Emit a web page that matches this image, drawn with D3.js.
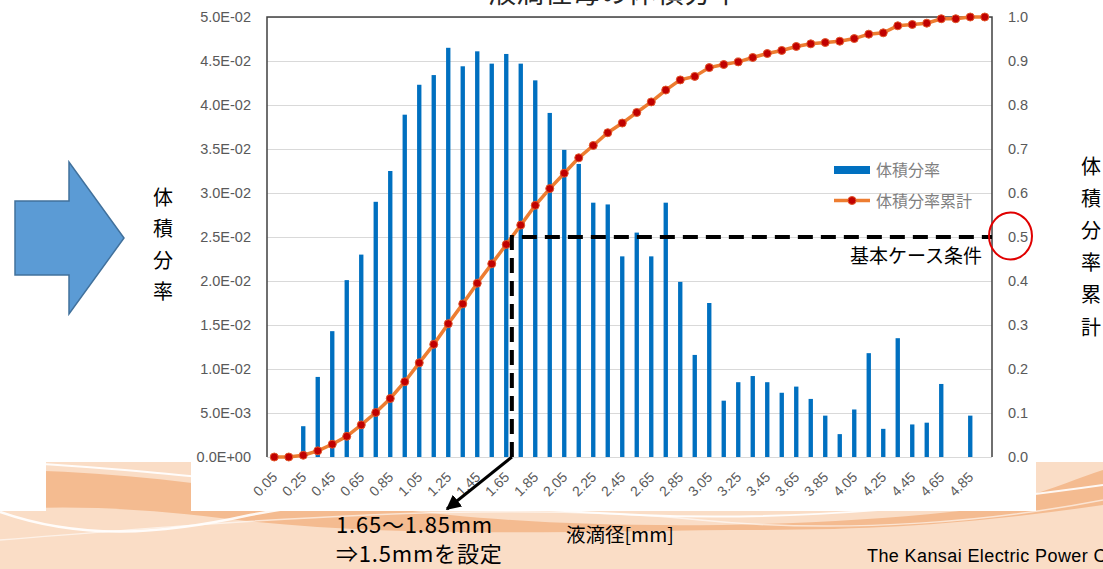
<!DOCTYPE html>
<html>
<head>
<meta charset="utf-8">
<script src="https://cdn.jsdelivr.net/npm/d3@7"></script>
<style>
body { margin: 0; background: #fff; overflow: hidden; }
svg { display: block; }
</style>
</head>
<body>
<svg width="1103" height="569"></svg>
<script>
// droplet size classes [mm]
var sizes = ["0.05","0.15","0.25","0.35","0.45","0.55","0.65","0.75","0.85","0.95",
             "1.05","1.15","1.25","1.35","1.45","1.55","1.65","1.75","1.85","1.95",
             "2.05","2.15","2.25","2.35","2.45","2.55","2.65","2.75","2.85","2.95",
             "3.05","3.15","3.25","3.35","3.45","3.55","3.65","3.75","3.85","3.95",
             "4.05","4.15","4.25","4.35","4.45","4.55","4.65","4.75","4.85","4.95"];

// 体積分率 (left axis)
var volFrac = [0, 0, 0.0035, 0.0091, 0.0143, 0.0201, 0.0230, 0.0290, 0.0325, 0.0389,
               0.0423, 0.0434, 0.0465, 0.0444, 0.0461, 0.0447, 0.0458, 0.0447, 0.0428, 0.0391,
               0.0349, 0.0333, 0.0289, 0.0287, 0.0228, 0.0255, 0.0228, 0.0289, 0.0199, 0.0116,
               0.0175, 0.0064, 0.0085, 0.0092, 0.0085, 0.0073, 0.0080, 0.0066, 0.0047, 0.0026,
               0.0054, 0.0118, 0.0032, 0.0135, 0.0037, 0.0039, 0.0083, 0, 0.0047, 0];

// 体積分率累計 (right axis)
var cumFrac = [0, 0, 0.004, 0.014, 0.029, 0.047, 0.073, 0.101, 0.133, 0.171,
               0.214, 0.256, 0.303, 0.348, 0.395, 0.439, 0.483, 0.527, 0.572, 0.610,
               0.645, 0.680, 0.708, 0.737, 0.759, 0.783, 0.807, 0.834, 0.857, 0.865,
               0.885, 0.892, 0.898, 0.908, 0.917, 0.924, 0.933, 0.939, 0.942, 0.945,
               0.951, 0.961, 0.964, 0.980, 0.983, 0.986, 0.996, 0.996, 1.0, 1.0];

var baseCase = 0.5;   // 基本ケース条件 (cumulative)

var svg = d3.select("svg");
var jp = "'Noto Sans CJK JP', 'Noto Sans', sans-serif";
var lat = "'Liberation Sans', Arial, sans-serif";

// ---- slide background ----
var bg = svg.append("g");
bg.append("rect").attr("x", 0).attr("y", 462).attr("width", 1103).attr("height", 107).attr("fill", "#FADDC6");
bg.append("path")
  .attr("d", "M0,470 C150,470 300,500 450,515 C600,530 800,528 950,512 C1020,505 1070,480 1103,470 L1103,505 C1000,520 900,530 760,530 C600,530 400,540 220,518 C140,508 60,505 0,510 Z")
  .attr("fill", "#F4BB90");
bg.append("path").attr("d", "M0,512 C80,540 160,535 250,515 C450,478 760,470 1103,452")
  .attr("fill", "none").attr("stroke", "#fff").attr("stroke-width", 2.5).attr("opacity", 0.9);
bg.append("path").attr("d", "M0,462 C200,470 400,505 640,515 C800,522 960,505 1103,485")
  .attr("fill", "none").attr("stroke", "#fff").attr("stroke-width", 2).attr("opacity", 0.9);
bg.append("path").attr("d", "M0,540 C250,520 500,500 700,520 C850,535 1000,520 1103,500")
  .attr("fill", "none").attr("stroke", "#fff").attr("stroke-width", 1.5).attr("opacity", 0.6);
bg.append("rect").attr("x", 0).attr("y", 0).attr("width", 46).attr("height", 511).attr("fill", "#fff");
bg.append("rect").attr("x", 191).attr("y", 0).attr("width", 845).attr("height", 511).attr("fill", "#fff");

// blue arrow on the left
svg.append("polygon")
  .attr("points", "15,201 69,201 69,162 124,238 69,314 69,275 15,275")
  .attr("fill", "#5B9BD5").attr("stroke", "#41719C").attr("stroke-width", 1.5);

// ---- chart ----
var pLeft = 267, pRight = 992, pTop = 17, pBottom = 457;

var x = d3.scaleBand().domain(sizes).range([pLeft, pRight]).paddingInner(0.7).paddingOuter(0.35);
var yL = d3.scaleLinear().domain([0, 0.05]).range([pBottom, pTop]);
var yR = d3.scaleLinear().domain([0, 1]).range([pBottom, pTop]);

function sci(v) {
  if (Math.abs(v) < 1e-12) return "0.0E+00";
  var e = Math.floor(Math.log10(v) + 1e-9);
  var m = v / Math.pow(10, e);
  var ee = Math.abs(e);
  return m.toFixed(1) + "E" + (e < 0 ? "-" : "+") + (ee < 10 ? "0" : "") + ee;
}

// gridlines
svg.append("g")
  .attr("transform", "translate(" + pLeft + ",0)")
  .call(d3.axisLeft(yL).ticks(10).tickSize(-(pRight - pLeft)).tickFormat(""))
  .call(function(g) {
    g.select(".domain").remove();
    g.selectAll("line").attr("stroke", "#D9D9D9").attr("stroke-width", 1.2);
  });

// bars
svg.append("g").selectAll("rect")
  .data(volFrac).enter()
  .append("rect")
  .attr("x", function(d, i) { return x(sizes[i]); })
  .attr("y", function(d) { return yL(d); })
  .attr("width", x.bandwidth())
  .attr("height", function(d) { return pBottom - yL(d); })
  .attr("fill", "#0070C0");

// plot border (top, left, right)
svg.append("path")
  .attr("d", "M" + pLeft + "," + pBottom + "V" + pTop + "H" + pRight + "V" + pBottom)
  .attr("fill", "none").attr("stroke", "#404040").attr("stroke-width", 1.5);

// left axis
svg.append("g")
  .attr("transform", "translate(" + pLeft + ",0)")
  .call(d3.axisLeft(yL).ticks(10).tickSize(0).tickPadding(16).tickFormat(sci))
  .call(function(g) {
    g.select(".domain").remove();
    g.selectAll("text").attr("fill", "#595959").style("font-family", lat).style("font-size", "14.5px");
  });

// right axis
svg.append("g")
  .attr("transform", "translate(" + pRight + ",0)")
  .call(d3.axisRight(yR).ticks(10).tickSize(0).tickPadding(16).tickFormat(d3.format(".1f")))
  .call(function(g) {
    g.select(".domain").remove();
    g.selectAll("text").attr("fill", "#595959").style("font-family", lat).style("font-size", "14.5px");
  });

// bottom axis
svg.append("g")
  .attr("transform", "translate(0," + pBottom + ")")
  .call(d3.axisBottom(x).tickSize(0).tickValues(sizes.filter(function(d, i) { return i % 2 === 0; })))
  .call(function(g) {
    g.select(".domain").remove();
    g.selectAll("text")
      .attr("x", 0).attr("y", 0).attr("dy", 0)
      .attr("transform", "translate(4,21) rotate(-45)")
      .attr("text-anchor", "end")
      .attr("fill", "#595959").style("font-family", lat).style("font-size", "14px");
  });

// cumulative line
var line = d3.line()
  .x(function(d, i) { return x(sizes[i]) + x.bandwidth() / 2; })
  .y(function(d) { return yR(d); });

svg.append("path").datum(cumFrac)
  .attr("d", line)
  .attr("fill", "none").attr("stroke", "#ED7D31").attr("stroke-width", 3.5);

svg.append("g").selectAll("circle")
  .data(cumFrac).enter()
  .append("circle")
  .attr("cx", function(d, i) { return x(sizes[i]) + x.bandwidth() / 2; })
  .attr("cy", function(d) { return yR(d); })
  .attr("r", 4)
  .attr("fill", "#C00000").attr("stroke", "#E2562A").attr("stroke-width", 1);

// base case crossing (interpolated where cumulative reaches 0.5)
var k = cumFrac.findIndex(function(d) { return d >= baseCase; });
var xa = x(sizes[k - 1]) + x.bandwidth() / 2, xb = x(sizes[k]) + x.bandwidth() / 2;
var xCross = xa + (baseCase - cumFrac[k - 1]) / (cumFrac[k] - cumFrac[k - 1]) * (xb - xa);

svg.append("path")
  .attr("d", "M" + xCross + "," + pBottom + "V" + yR(baseCase) + "H" + pRight)
  .attr("fill", "none").attr("stroke", "#000").attr("stroke-width", 4)
  .attr("stroke-dasharray", "15,8");

svg.append("text")
  .attr("x", 982).attr("y", 263)
  .attr("text-anchor", "end")
  .style("font-family", jp).style("font-size", "19px").attr("fill", "#000")
  .text("基本ケース条件");

// red circle around 0.5
svg.append("ellipse")
  .attr("cx", 1010.5).attr("cy", yR(baseCase) - 1)
  .attr("rx", 21.5).attr("ry", 23.5)
  .attr("fill", "none").attr("stroke", "#E00000").attr("stroke-width", 2);

// arrow to annotation
svg.append("defs").append("marker")
  .attr("id", "ah").attr("viewBox", "0 0 10 10").attr("refX", 9).attr("refY", 5)
  .attr("markerWidth", 5).attr("markerHeight", 5).attr("orient", "auto")
  .append("path").attr("d", "M0,0 L10,5 L0,10 Z").attr("fill", "#000");

svg.append("line")
  .attr("x1", xCross).attr("y1", pBottom)
  .attr("x2", 447).attr("y2", 509)
  .attr("stroke", "#000").attr("stroke-width", 3)
  .attr("marker-end", "url(#ah)");

// legend
var lg = svg.append("g").style("font-family", jp).style("font-size", "16px");
lg.append("rect").attr("x", 834).attr("y", 166).attr("width", 36).attr("height", 8).attr("fill", "#0070C0");
lg.append("text").attr("x", 876).attr("y", 176).attr("fill", "#7F7F7F").text("体積分率");
lg.append("line").attr("x1", 834).attr("x2", 870).attr("y1", 200.5).attr("y2", 200.5)
  .attr("stroke", "#ED7D31").attr("stroke-width", 3.5);
lg.append("circle").attr("cx", 852).attr("cy", 200.5).attr("r", 4)
  .attr("fill", "#C00000").attr("stroke", "#E2562A").attr("stroke-width", 1);
lg.append("text").attr("x", 876).attr("y", 207).attr("fill", "#7F7F7F").text("体積分率累計");

// title (cut off at top)
svg.append("text")
  .attr("x", 614).attr("y", 3)
  .attr("text-anchor", "middle")
  .style("font-family", jp).style("font-size", "28px").attr("fill", "#262626")
  .text("液滴径毎の体積分率");

// vertical axis titles
var leftTitle = "体積分率".split("");
svg.append("g").selectAll("text").data(leftTitle).enter()
  .append("text")
  .attr("x", 163).attr("y", function(d, i) { return 196 + i * 31.5; })
  .attr("text-anchor", "middle").attr("dominant-baseline", "central")
  .style("font-family", jp).style("font-size", "20px").attr("fill", "#000")
  .text(function(d) { return d; });

var rightTitle = "体積分率累計".split("");
svg.append("g").selectAll("text").data(rightTitle).enter()
  .append("text")
  .attr("x", 1091).attr("y", function(d, i) { return 165 + i * 32.2; })
  .attr("text-anchor", "middle").attr("dominant-baseline", "central")
  .style("font-family", jp).style("font-size", "20px").attr("fill", "#000")
  .text(function(d) { return d; });

// x axis title
svg.append("text")
  .attr("x", 566).attr("y", 542)
  .style("font-family", jp).style("font-size", "19.5px").attr("fill", "#000")
  .text("液滴径[mm]");

// annotation
svg.append("text")
  .attr("x", 336).attr("y", 533)
  .style("font-family", jp).style("font-size", "22px").style("letter-spacing", "0.8px").attr("fill", "#000")
  .text("1.65～1.85mm");
svg.append("text")
  .attr("x", 336).attr("y", 562)
  .style("font-family", jp).style("font-size", "22px").style("letter-spacing", "0.8px").attr("fill", "#000")
  .text("⇒1.5mmを設定");

// footer
svg.append("text")
  .attr("x", 867).attr("y", 562)
  .style("font-family", lat).style("font-size", "18px").style("letter-spacing", "0.4px").attr("fill", "#000")
  .text("The Kansai Electric Power Co., Inc.");
</script>
</body>
</html>
